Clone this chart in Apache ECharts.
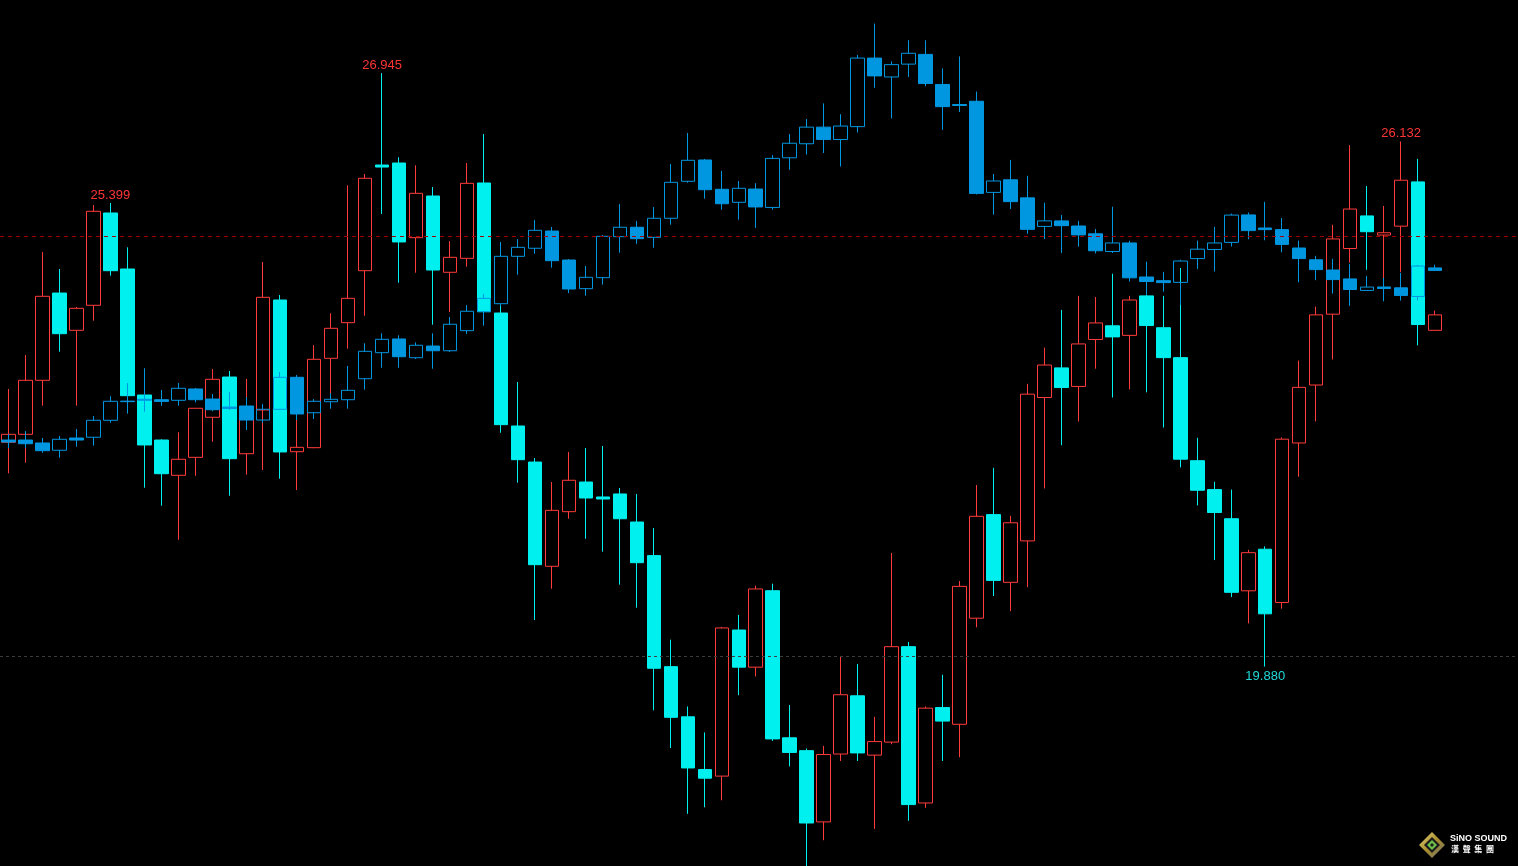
<!DOCTYPE html>
<html>
<head>
<meta charset="utf-8">
<script src="https://cdn.jsdelivr.net/npm/echarts@6/dist/echarts.min.js"></script>
<style>
html,body{margin:0;padding:0;background:#000;}
#chart{width:1518px;height:866px;}
</style>
</head>
<body>
<div id="chart"></div>
<script>
// ---- Main instrument (red hollow up / cyan filled down) ----
var mainOpen = [22.550,22.645,23.288,24.327,23.883,24.181,25.280,24.613,23.113,22.577,
22.157,22.371,22.848,23.327,22.414,22.935,24.244,22.438,22.486,23.550,
23.974,24.593,25.851,25.875,24.986,25.482,24.574,24.740,25.637,24.089,
22.744,22.315,21.074,21.724,22.077,21.899,21.935,21.601,21.201,19.879,
19.282,18.654,18.576,20.315,19.873,20.783,19.032,18.879,18.031,18.839,
19.532,18.826,18.981,20.117,18.256,19.392,19.193,20.456,21.689,20.883,
21.376,23.083,23.436,23.215,23.774,23.937,23.823,24.293,23.914,23.558,
22.331,21.987,21.640,20.782,21.277,20.643,22.542,23.232,24.075,24.857,
25.245,25.017,25.123,25.650,23.883];
var mainClose = [22.645,23.288,24.288,23.843,24.145,25.300,24.593,23.105,22.518,22.176,
22.348,22.955,23.300,22.355,22.935,24.276,22.435,22.490,23.538,23.907,
24.264,25.693,25.827,24.935,25.514,24.601,24.752,25.633,24.105,22.760,
22.343,21.093,21.740,22.098,21.887,21.875,21.640,21.117,19.860,19.276,
18.673,18.551,20.340,19.873,20.804,19.019,18.858,18.018,18.833,19.545,
18.852,18.987,20.117,18.237,19.385,19.231,20.835,21.669,20.906,21.592,
23.123,23.470,23.202,23.721,23.971,23.805,24.244,23.940,23.558,22.349,
21.979,21.714,20.764,21.236,20.508,22.587,23.204,24.067,24.971,25.327,
25.057,25.045,25.670,23.952,24.067];
var mainLow = [22.181,22.307,22.986,23.629,22.986,23.998,24.533,23.089,22.010,21.795,
21.390,22.152,22.557,21.914,22.164,22.220,22.117,21.982,22.479,23.054,
23.664,24.057,25.268,24.450,24.569,23.950,24.101,24.640,24.089,22.664,
22.069,20.435,20.807,21.640,21.402,21.248,20.855,20.581,19.360,18.911,
18.127,18.205,18.288,19.539,19.763,18.994,18.692,17.450,17.813,18.756,
18.756,17.948,18.955,18.044,18.198,18.756,18.801,20.348,20.720,20.540,
20.826,22.001,22.515,22.798,23.426,23.083,23.180,23.145,22.726,22.251,
21.799,21.148,20.707,20.394,19.880,20.570,22.140,22.799,23.536,24.689,
24.604,24.423,24.577,23.704,23.883];
var mainHigh = [23.185,23.589,24.815,24.613,24.161,25.375,25.399,24.871,23.113,22.586,
22.669,22.958,23.423,23.399,23.304,24.696,24.304,23.054,23.708,24.086,
25.610,25.744,26.945,25.943,25.848,25.589,24.946,25.875,26.220,24.173,
23.268,22.363,22.077,22.435,22.482,22.506,22.006,21.935,21.529,20.200,
19.405,19.096,20.353,20.495,20.842,20.867,19.423,18.904,18.936,20.007,
19.911,19.282,21.233,20.174,19.405,19.783,20.899,22.042,22.246,21.675,
23.246,23.677,24.126,24.293,24.280,24.557,24.293,24.698,24.293,24.625,
22.604,22.080,21.987,21.270,21.311,22.607,23.523,24.165,25.139,26.088,
25.601,25.364,26.132,25.924,24.117];

// ---- Overlay instrument (blue), drawn on the same scale ----
var ovOpen = [22.577,22.577,22.542,22.455,22.601,22.610,22.812,23.040,23.062,23.057,
23.050,23.185,23.065,22.970,22.982,22.815,22.943,23.324,22.902,23.033,
23.057,23.307,23.617,23.780,23.557,23.696,23.640,23.879,24.105,24.200,
24.764,24.860,25.065,24.720,24.379,24.510,24.998,25.110,24.990,25.217,
25.657,25.911,25.562,25.407,25.565,25.346,25.937,26.104,26.302,26.155,
26.308,27.124,26.899,27.052,27.168,26.810,26.571,26.610,25.525,25.675,
25.460,25.120,25.186,25.125,25.032,24.821,24.923,24.518,24.474,24.454,
24.737,24.845,24.930,25.257,25.101,25.082,24.863,24.723,24.601,24.495,
24.358,24.399,24.389,24.286,24.626];
var ovClose = [22.554,22.533,22.450,22.586,22.577,22.812,23.038,23.034,23.050,23.037,
23.193,23.057,22.938,22.952,22.815,22.943,23.324,22.887,23.038,23.062,
23.169,23.633,23.776,23.569,23.705,23.640,23.955,24.110,24.264,24.764,
24.871,25.074,24.712,24.375,24.514,25.002,25.110,24.974,25.217,25.645,
25.907,25.557,25.390,25.574,25.352,25.930,26.110,26.302,26.155,26.315,
27.124,26.912,27.046,27.181,26.821,26.546,26.560,25.513,25.661,25.415,
25.085,25.186,25.129,25.019,24.830,24.923,24.508,24.464,24.451,24.708,
24.849,24.923,25.255,25.070,25.082,24.906,24.737,24.606,24.487,24.369,
24.398,24.381,24.298,24.648,24.596];
var ovLow = [22.482,22.482,22.426,22.367,22.498,22.510,22.783,22.890,22.914,22.986,
22.986,23.026,22.919,22.935,22.696,22.783,22.935,22.815,22.827,22.950,
22.950,23.176,23.438,23.438,23.542,23.426,23.625,23.839,23.938,24.173,
24.545,24.795,24.629,24.327,24.295,24.426,24.807,24.914,24.867,25.140,
25.640,25.450,25.319,25.200,25.102,25.320,25.795,25.975,25.994,25.833,
26.238,26.770,26.405,26.899,26.789,26.270,26.482,25.500,25.260,25.327,
25.032,24.970,24.804,24.879,24.799,24.804,24.464,24.302,24.342,24.185,
24.614,24.583,24.881,24.967,24.955,24.812,24.456,24.480,24.320,24.175,
24.358,24.229,24.237,24.239,24.596];
var ovHigh = [22.649,22.685,22.601,22.625,22.708,22.863,23.098,23.256,23.431,23.173,
23.256,23.196,23.125,23.149,23.086,23.006,23.387,23.351,23.065,23.133,
23.458,23.729,23.848,23.824,23.740,23.848,24.042,24.185,24.315,24.935,
24.970,25.196,25.113,24.732,24.649,25.018,25.387,25.185,25.351,25.863,
26.232,25.923,25.780,25.661,25.635,25.968,26.219,26.399,26.585,26.456,
27.162,27.535,27.085,27.336,27.336,27.001,27.143,26.726,25.744,25.912,
25.723,25.402,25.257,25.186,25.089,25.354,24.949,24.698,24.579,24.723,
24.950,25.114,25.273,25.285,25.413,25.220,24.951,24.770,24.733,24.675,
24.532,24.508,24.568,24.661,24.664];

// labelled swing extremes (bar index)
var swingHighIdx = [6, 22, 82];
var swingLowIdx = [74];
// horizontal reference levels
var levelRed = 25.0;
var levelGray = 20.0;

var nBars = mainOpen.length;
var padBars = 4;
var categories = [];
for (var k = 0; k < nBars + padBars; k++) categories.push(String(k + 1));

var mainData = mainOpen.map(function (o, i) { return [o, mainClose[i], mainLow[i], mainHigh[i]]; });
var ovData = ovOpen.map(function (o, i) { return [o, ovClose[i], ovLow[i], ovHigh[i]]; });

var RED = '#ff3b3b', CYAN = '#00f0f0', BLUE = '#0096e0';

var marks = [];
swingHighIdx.forEach(function (i) {
  marks.push({ coord: [i, mainHigh[i]], value: mainHigh[i],
    label: { position: 'top', distance: 1, color: '#ff3535' } });
});
swingLowIdx.forEach(function (i) {
  marks.push({ coord: [i, mainLow[i]], value: mainLow[i],
    label: { position: 'bottom', distance: 3, color: '#22d8d8' } });
});

var H = 866, pxPerUnit = 84, yRef = 236.5;
var yMax = levelRed + yRef / pxPerUnit;
var yMin = yMax - H / pxPerUnit;

var chart = echarts.init(document.getElementById('chart'), null, { renderer: 'canvas' });
chart.setOption({
  backgroundColor: '#000000',
  animation: false,
  grid: [
    { left: -1.5, top: 0, width: (nBars + padBars) * 17, height: H, containLabel: false },
    { left: 0, top: 0, right: 0, height: H, containLabel: false }
  ],
  xAxis: [
    { type: 'category', data: categories, boundaryGap: true, show: false, gridIndex: 0 },
    { type: 'value', min: 0, max: 1, show: false, gridIndex: 1 }
  ],
  yAxis: [
    { type: 'value', min: yMin, max: yMax, show: false, splitLine: { show: false }, gridIndex: 0 },
    { type: 'value', min: yMin, max: yMax, show: false, splitLine: { show: false }, gridIndex: 1 }
  ],
  series: [
    {
      name: 'Levels', type: 'line', xAxisIndex: 1, yAxisIndex: 1, data: [],
      silent: true, symbol: 'none',
      markLine: {
        silent: true, symbol: ['none', 'none'], label: { show: false },
        data: [
          { yAxis: levelRed, lineStyle: { color: '#a00000', type: [4, 4], width: 1 } },
          { yAxis: levelGray, lineStyle: { color: '#3c3c3c', type: [3, 3], width: 1 } }
        ]
      }
    },
    {
      name: 'Main', type: 'candlestick', data: mainData, barWidth: 14,
      itemStyle: { color: 'transparent', color0: CYAN, borderColor: RED, borderColor0: CYAN, borderWidth: 1 },
      emphasis: { disabled: true },
      markPoint: {
        symbol: 'circle', symbolSize: 1, silent: true,
        itemStyle: { color: 'transparent' },
        label: { show: true, fontFamily: 'Liberation Sans', fontSize: 13,
          formatter: function (p) { return Number(p.value).toFixed(3); } },
        data: marks
      }
    },
    {
      name: 'Overlay', type: 'candlestick', data: ovData, barWidth: 14,
      itemStyle: { color: 'transparent', color0: BLUE, borderColor: BLUE, borderColor0: BLUE, borderWidth: 1 },
      emphasis: { disabled: true }
    }
  ],
  graphic: [
    { type: 'polygon', shape: { points: [[1432, 832], [1445, 845], [1432, 858], [1419, 845]] },
      style: { fill: new echarts.graphic.LinearGradient(0, 0, 1, 1, [{ offset: 0, color: '#e6d27a' }, { offset: 0.5, color: '#a88d2c' }, { offset: 1, color: '#6e6e6e' }]) } },
    { type: 'polygon', shape: { points: [[1432, 837], [1440, 845], [1432, 853], [1424, 845]] },
      style: { fill: '#1a1a1a' } },
    { type: 'polygon', shape: { points: [[1432, 840], [1437, 845], [1432, 850], [1427, 845]] },
      style: { fill: '#6cc04a' } },
    { type: 'polygon', shape: { points: [[1432, 843], [1434, 845], [1432, 847], [1430, 845]] },
      style: { fill: '#1a1a1a' } },
    { type: 'text', left: 1450, top: 834,
      style: { text: 'SiNO SOUND', fill: '#ffffff', font: 'bold 9px "Liberation Sans"' } },
    { type: 'text', left: 1451, top: 845,
      style: { text: '漢  聲  集  團', fill: '#ffffff', font: 'bold 8px "Noto Sans CJK TC"' } }
  ]
});
</script>
</body>
</html>
